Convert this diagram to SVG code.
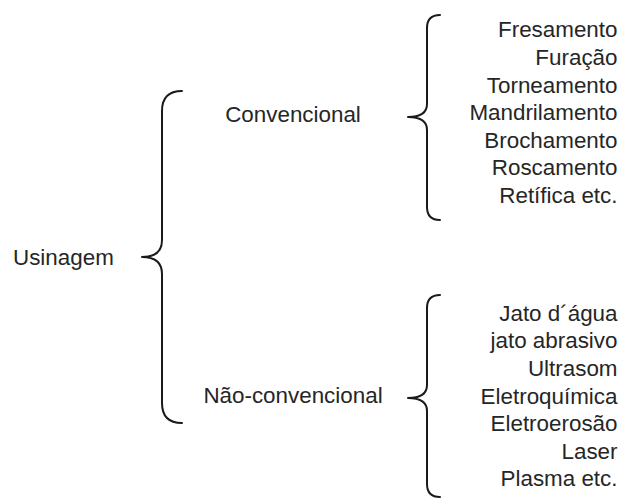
<svg xmlns="http://www.w3.org/2000/svg" width="624" height="498" viewBox="0 0 624 498">
  <style>
    text { font-family: "Liberation Sans", Arial, sans-serif; font-size: 22.4px; fill: #262626; }
    .end { text-anchor: end; }
    .mid { text-anchor: middle; }
    .brace { fill: none; stroke: #1a1a1a; stroke-width: 2; stroke-linecap: round; stroke-linejoin: round; }
  </style>
  <rect width="624" height="498" fill="#ffffff"/>

  <!-- Braces connecting each level -->
  <g id="connectors">
    <path class="brace" d="M182,91 Q162,91 162,111 L162,240 Q162,257 142,257 Q162,257 162,274 L162,403 Q162,423 182,423"/>
    <path class="brace" d="M440,15 Q427,15 427,28 L427,104 Q427,117 408,117 Q427,117 427,130 L427,207 Q427,220 440,220"/>
    <path class="brace" d="M440,295 Q427,295 427,308 L427,385 Q427,398 408,398 Q427,398 427,411 L427,484 Q427,497 440,497"/>
  </g>

  <g id="usinagem">
    <text x="13" y="265">Usinagem</text>
  </g>

  <g id="convencional">
    <text class="mid" x="293" y="122">Convencional</text>
  </g>

  <g id="nao-convencional">
    <text class="mid" x="293" y="403">Não-convencional</text>
  </g>

  <g id="processos-convencionais">
    <text class="end" x="617.5" y="37.3">Fresamento</text>
    <text class="end" x="617.5" y="64.9">Furação</text>
    <text class="end" x="617.5" y="92.5">Torneamento</text>
    <text class="end" x="617.5" y="120.1">Mandrilamento</text>
    <text class="end" x="617.5" y="147.7">Brochamento</text>
    <text class="end" x="617.5" y="175.3">Roscamento</text>
    <text class="end" x="617.5" y="202.9">Retífica etc.</text>
  </g>

  <g id="processos-nao-convencionais">
    <text class="end" x="617.5" y="320.7">Jato d´água</text>
    <text class="end" x="617.5" y="348.3">jato abrasivo</text>
    <text class="end" x="617.5" y="375.9">Ultrasom</text>
    <text class="end" x="617.5" y="403.5">Eletroquímica</text>
    <text class="end" x="617.5" y="431.1">Eletroerosão</text>
    <text class="end" x="617.5" y="458.7">Laser</text>
    <text class="end" x="617.5" y="486.3">Plasma etc.</text>
  </g>
</svg>
